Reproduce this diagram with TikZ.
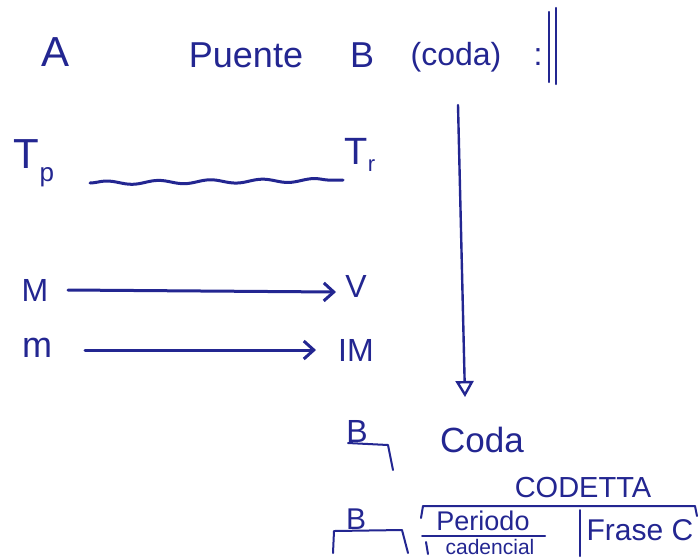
\documentclass[tikz,border=0pt]{standalone}
\usepackage{fontspec}
\setmainfont{Liberation Sans}
\usetikzlibrary{arrows.meta,decorations.pathmorphing}
\definecolor{ink}{RGB}{35,38,145}
\begin{document}
\begin{tikzpicture}[x=1pt,y=-1pt,
  lbl/.style={text=ink, inner sep=0pt, font=\fontsize{#1}{#1}\selectfont},
  pen/.style={draw=ink, line width=3pt, line cap=round, line join=round},
  thin pen/.style={draw=ink, line width=2pt, line cap=round, line join=round},
  barb/.style={-{Straight Barb[length=10pt,width=18pt,line width=3pt]}},
  wave/.style={decorate, decoration={snake, amplitude=1.8pt, segment length=52pt}}]
\fill[white] (0,0) rectangle (700,558);
\useasboundingbox (0,0) rectangle (700,558);

% top line
\node[lbl=42] (A) at (56,52) {A};
\node[lbl=36] (puente) at (246,55) {Puente};
\node[lbl=36] (B1) at (362,55) {B};
\node[lbl=32] (coda1) at (456,57) {(coda)};
\node[lbl=32] (colon) at (538,57) {:};
\coordinate (bar1t) at (549,12); \coordinate (bar1b) at (549,82);
\coordinate (bar2t) at (556,8);  \coordinate (bar2b) at (556,84);
\draw[pen, line width=2.4pt] (bar1t) -- (bar1b);
\draw[pen, line width=2.4pt] (bar2t) -- (bar2b);

% vertical arrow
\coordinate (vtop) at (458,105);
\coordinate (vbot) at (465,397);
\draw[pen, line width=2.4pt, -{Triangle[open, length=16pt, width=18pt, line width=2.4pt]}] (vtop) -- (vbot);

% tonalities
\node[lbl=42] (Tp) at (34,163) {T\raisebox{-0.3em}{\fontsize{26}{26}\selectfont p}};
\node[lbl=38] (Tr) at (360,155) {T\raisebox{-0.18em}{\fontsize{22}{22}\selectfont r}};
\coordinate (w1) at (90,183);
\coordinate (w2) at (343,180);
\draw[pen, wave] (w1) -- (w2);

\node[lbl=32] (M) at (35,290) {M};
\node[lbl=32] (V) at (356,286) {V};
\coordinate (mv1) at (68,290);
\coordinate (mv2) at (336,292);
\draw[pen, barb] (mv1) -- (mv2);
\node[lbl=36] (m) at (37,348) {m};
\node[lbl=32] (IM) at (356,350) {IM};
\coordinate (a1) at (85,350);
\coordinate (a2) at (316,350);
\draw[pen, barb] (a1) -- (a2);

% B / Coda
\node[lbl=32] (B2) at (357,431) {B};
\coordinate (k1) at (348,443); \coordinate (k2) at (388,445); \coordinate (k3) at (393,470);
\draw[thin pen] (k1) -- (k2) -- (k3);
\node[lbl=35] (coda2) at (482,440) {Coda};

% codetta
\node[lbl=29] (codetta) at (583,488) {CODETTA};
\coordinate (c1) at (421,518); \coordinate (c2) at (423,506);
\coordinate (c3) at (695,506); \coordinate (c4) at (697,516);
\draw[thin pen] (c1) -- (c2) -- (c3) -- (c4);

\node[lbl=30] (B3) at (356,519) {B};
\coordinate (b1) at (333,553); \coordinate (b2) at (334,531);
\coordinate (b3) at (402,530); \coordinate (b4) at (408,553);
\draw[thin pen] (b1) -- (b2) -- (b3) -- (b4);

\node[lbl=27] (periodo) at (483,521) {Periodo};
\coordinate (u1) at (422,536); \coordinate (u2) at (545,536);
\draw[thin pen] (u1) -- (u2);
\coordinate (t1) at (426,542); \coordinate (t2) at (428,554);
\draw[thin pen] (t1) -- (t2);
\node[lbl=21] (cadencial) at (490,547) {cadencial};
\coordinate (d1) at (580,510); \coordinate (d2) at (580,556);
\draw[thin pen] (d1) -- (d2);
\node[lbl=30] (frase) at (640,530) {Frase C};
\end{tikzpicture}
\end{document}
